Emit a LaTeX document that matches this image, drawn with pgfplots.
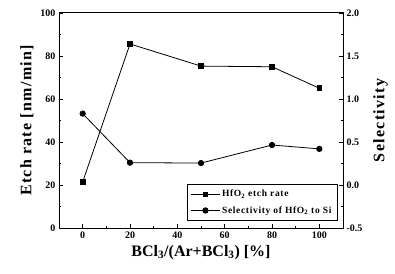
\documentclass[border=0pt]{standalone}
\usepackage{pgfplots}
\pgfplotsset{compat=1.18}
\usepackage{fontspec}
\setmainfont{Liberation Serif}
\begin{document}
\begin{tikzpicture}
\pgfplotsset{
  myaxis/.style={
    scale only axis, width=284pt, height=215pt,
    xmin=-10, xmax=110,
    tick align=inside,
    major tick length=4pt, minor tick length=2pt,
    tick style={line width=0.8pt, black},
    /pgf/number format/assume math mode=true,
    ticklabel style={font=\bfseries\normalsize},
    label style={font=\bfseries\fontsize{16}{19}\selectfont},
    axis line style={line width=1pt},
  }
}
\begin{axis}[myaxis,
  ymin=0, ymax=100,
  xtick={0,20,...,100}, ytick={0,20,...,100},
  minor x tick num=1, minor y tick num=1,
  xtick pos=bottom, ytick pos=left,
  xlabel={BCl\textsubscript{3}/(Ar+BCl\textsubscript{3}) [\%]},
  ylabel={\addfontfeature{LetterSpace=8}Etch rate [nm/min]},
]
\addplot[black, line width=0.8pt, mark=square*, mark size=2.4pt] coordinates {
  (0,21.4) (20,85.6) (50,75.3) (80,75.0) (100,65.0)
};
\end{axis}
\begin{axis}[myaxis,
  ymin=-0.5, ymax=2.0,
  ytick={-0.5,0,0.5,1,1.5,2},
  minor y tick num=1,
  yticklabel style={/pgf/number format/fixed, /pgf/number format/fixed zerofill, /pgf/number format/precision=1},
  hide x axis,
  axis y line*=right,
  ylabel={\addfontfeature{LetterSpace=8}Selectivity},
  ylabel style={yshift=-4pt},
  legend style={at={(0.98,0.035)}, anchor=south east,
    font=\bfseries\fontsize{9.5}{11}\selectfont\addfontfeature{LetterSpace=7},
    draw=black, line width=0.8pt, cells={anchor=west}, row sep=4pt, inner sep=3.5pt},
  legend image code/.code={\draw[mark repeat=2, mark phase=2, #1] plot coordinates {(0cm,0cm) (0.5cm,0cm) (1cm,0cm)};},
]
\addlegendimage{black, line width=0.8pt, mark=square*, mark size=1.8pt}
\addlegendentry{HfO\textsubscript{2} etch rate}
\addplot[black, line width=0.8pt, mark=*, mark size=2.7pt] coordinates {
  (0,0.83) (20,0.26) (50,0.255) (80,0.465) (100,0.42)
};
\addlegendentry{Selectivity of HfO\textsubscript{2} to Si}
\end{axis}
\pgfresetboundingbox
\path ([xshift=-59pt,yshift=-45pt]current axis.south west) rectangle ([xshift=52pt,yshift=13pt]current axis.north east);
\end{tikzpicture}
\end{document}
